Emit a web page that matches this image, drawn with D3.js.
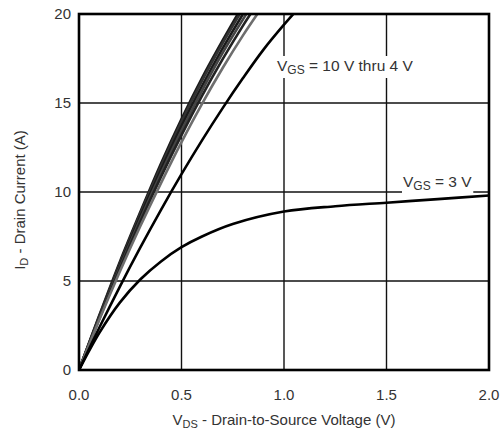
<!DOCTYPE html>
<html>
<head>
<meta charset="utf-8">
<script src="https://cdn.jsdelivr.net/npm/d3@7"></script>
<style>
  body { margin: 0; background: #fff; }
  text { font-family: "Liberation Sans", Arial, sans-serif; fill: #333; }
</style>
</head>
<body>
<svg id="chart" width="500" height="432"></svg>
<script>
// drain voltage grid (V)
const vds = [0, 0.1, 0.2, 0.3, 0.4, 0.5, 0.6, 0.7, 0.8, 0.9, 1.0, 1.1];
const vds3 = [0, 0.1, 0.2, 0.3, 0.4, 0.5, 0.6, 0.75, 1.0, 1.25, 1.5, 1.75, 2.0];

// drain current (A) per gate voltage
const id10 = [0, 3.1, 6.1, 8.9, 11.6, 14.1, 16.4, 18.5, 20.5];
const id9 = [0, 3.05, 6.0, 8.8, 11.45, 13.95, 16.25, 18.35, 20.3];
const id8 = [0, 3.0, 5.9, 8.65, 11.25, 13.7, 15.95, 18.05, 20.0, 21.8];
const id7 = [0, 2.95, 5.8, 8.5, 11.05, 13.45, 15.7, 17.8, 19.7, 21.5];
const id6 = [0, 2.9, 5.7, 8.35, 10.85, 13.2, 15.4, 17.45, 19.35, 21.1];
const id5 = [0, 2.85, 5.55, 8.1, 10.5, 12.8, 14.95, 16.95, 18.8, 20.5];
const id4 = [0, 2.4, 4.7, 6.9, 9.0, 11.0, 12.9, 14.7, 16.4, 18.0, 19.4, 20.7];
const id3 = [0, 2.1, 3.8, 5.1, 6.1, 6.9, 7.5, 8.2, 8.9, 9.2, 9.4, 9.6, 9.8];

const xTicks = [0, 0.5, 1.0, 1.5, 2.0];
const yTicks = [0, 5, 10, 15, 20];

const svg = d3.select('#chart');
const x = d3.scaleLinear().domain([0, 2]).range([79, 489]);
const y = d3.scaleLinear().domain([0, 20]).range([370, 14]);

// grid
svg.append('g').selectAll('line.v').data(xTicks.slice(1, -1)).enter().append('line')
  .attr('x1', d => x(d)).attr('x2', d => x(d))
  .attr('y1', y(0)).attr('y2', y(20))
  .attr('stroke', '#111').attr('stroke-width', 1.4);
svg.append('g').selectAll('line.h').data(yTicks.slice(1, -1)).enter().append('line')
  .attr('x1', x(0)).attr('x2', x(2))
  .attr('y1', d => y(d)).attr('y2', d => y(d))
  .attr('stroke', '#111').attr('stroke-width', 1.4);

// curves
const curves = [
  {v: vds, i: id10, color: '#1a1a1a'},
  {v: vds, i: id9, color: '#333'},
  {v: vds, i: id8, color: '#1a1a1a'},
  {v: vds, i: id7, color: '#444'},
  {v: vds, i: id6, color: '#222'},
  {v: vds, i: id5, color: '#6e6e6e'},
  {v: vds, i: id4, color: '#000'},
  {v: vds3, i: id3, color: '#000'}
];

svg.append('clipPath').attr('id', 'plot')
  .append('rect').attr('x', x(0)).attr('y', y(20))
  .attr('width', x(2) - x(0)).attr('height', y(0) - y(20));

const line = d3.line().x(d => x(d[0])).y(d => y(d[1])).curve(d3.curveCatmullRom.alpha(0.5));

svg.append('g').attr('clip-path', 'url(#plot)')
  .selectAll('path').data(curves).enter().append('path')
  .attr('d', c => line(c.i.map((d, k) => [c.v[k], d])))
  .attr('fill', 'none')
  .attr('stroke', c => c.color)
  .attr('stroke-width', 2.6);

// labels with white backing
function label(tx, ty, main, sub, rest) {
  const t = svg.append('text').attr('x', tx).attr('y', ty).attr('font-size', 15.5);
  t.append('tspan').text(main);
  t.append('tspan').attr('font-size', 12).attr('dy', 3).text(sub);
  t.append('tspan').attr('dy', -3).text(rest);
  const b = t.node().getBBox();
  svg.insert('rect', 'text').attr('x', b.x - 1).attr('y', b.y - 1)
    .attr('width', b.width + 2).attr('height', b.height + 2).attr('fill', '#fff');
  return t;
}
label(277, 71, 'V', 'GS', ' = 10 V thru 4 V');
label(403, 187, 'V', 'GS', ' = 3 V');

// frame
svg.append('rect').attr('x', x(0)).attr('y', y(20))
  .attr('width', x(2) - x(0)).attr('height', y(0) - y(20))
  .attr('fill', 'none').attr('stroke', '#000').attr('stroke-width', 2.6);

// tick labels
svg.append('g').selectAll('text').data(xTicks).enter().append('text')
  .attr('x', d => x(d)).attr('y', 400)
  .attr('text-anchor', 'middle').attr('font-size', 15)
  .text(d => d3.format('.1f')(d));
svg.append('g').selectAll('text').data(yTicks).enter().append('text')
  .attr('x', 71).attr('y', d => y(d) + 5)
  .attr('text-anchor', 'end').attr('font-size', 15)
  .text(d => d);

// axis titles
const xt = svg.append('text').attr('x', 284).attr('y', 425)
  .attr('text-anchor', 'middle').attr('font-size', 15);
xt.append('tspan').text('V');
xt.append('tspan').attr('font-size', 11).attr('dy', 3).text('DS');
xt.append('tspan').attr('dy', -3).text(' - Drain-to-Source Voltage (V)');

const yt = svg.append('text').attr('transform', 'translate(25,200) rotate(-90)')
  .attr('text-anchor', 'middle').attr('font-size', 15);
yt.append('tspan').text('I');
yt.append('tspan').attr('font-size', 11).attr('dy', 3).text('D');
yt.append('tspan').attr('dy', -3).text(' - Drain Current (A)');
</script>
</body>
</html>
